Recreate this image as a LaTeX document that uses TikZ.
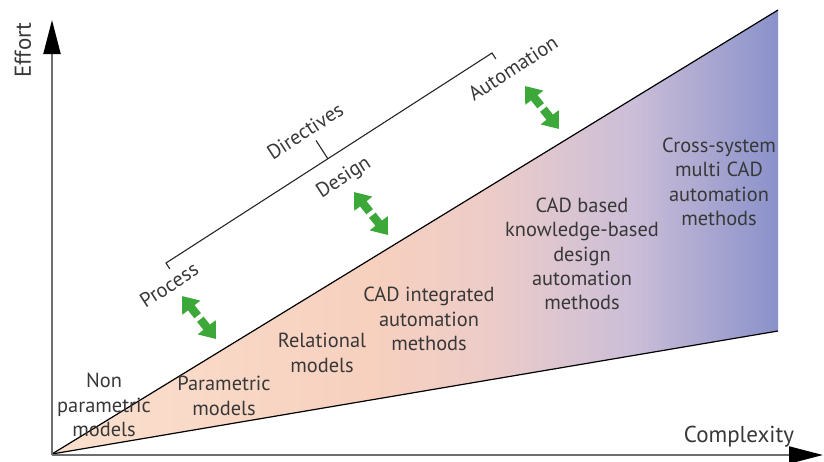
\documentclass[tikz,border=0pt]{standalone}
\usepackage{fontspec}
\setmainfont{PT Sans}
\usetikzlibrary{arrows.meta,calc}
\definecolor{peachA}{HTML}{FBE0CE}
\definecolor{peachB}{HTML}{F7D0BE}
\definecolor{pinkC}{HTML}{EDCCC8}
\definecolor{lilacD}{HTML}{CBBED8}
\definecolor{blueE}{HTML}{8A91CA}
\definecolor{txtgray}{HTML}{383838}
\definecolor{axisgray}{HTML}{6E6E6E}
\definecolor{arrowgreen}{HTML}{3DA83A}
\pgfdeclarehorizontalshading{effortshade}{100bp}{color(0bp)=(peachA); color(25bp)=(peachA);
color(47bp)=(peachB); color(55bp)=(pinkC); color(65bp)=(lilacD); color(75bp)=(blueE); color(100bp)=(blueE)}
\tikzset{txt/.style={align=center, inner sep=0pt, text=txtgray, font=\fontsize{10.2}{12.2}\selectfont},
tilted/.style={txt, rotate=33},
axislbl/.style={inner sep=0pt, text=txtgray, font=\fontsize{11.5}{13}\selectfont},
axisline/.style={draw=axisgray, line width=1pt, -{Triangle[length=17pt,width=8.5pt,black]}},
wedgeline/.style={draw=black, line width=0.6pt},
bracket/.style={draw=black!85, line width=0.55pt},
garrow/.style={draw=arrowgreen, line width=4.2pt, -{Triangle[length=7.5pt,width=11pt]}}}

\begin{document}
\begin{tikzpicture}[x=0.5pt,y=-0.5pt]
    \useasboundingbox (0,0) rectangle (824,461);

    \coordinate (O) at (52,454);
    \coordinate (wtop) at (778,10);
    \coordinate (wbot) at (778,331);

    \shade [shading=effortshade] (O) -- (wtop) -- (wbot) -- cycle;
    \draw [wedgeline] (O) -- (wtop);
    \draw [wedgeline] (O) -- (wbot);

    \coordinate (ax0) at (52,455);
    \coordinate (axy) at (52,20);
    \coordinate (axx) at (823,455);
    \draw [axisline] (ax0) -- (axy);
    \draw [axisline] (ax0) -- (axx);

    \node (effort) [axislbl, rotate=90] at (23,50) {Effort};
    \node (complexity) [axislbl] at (739,437) {Complexity};

    \coordinate (brL) at (166,263);
    \coordinate (brM) at (328,159);
    \coordinate (brR) at (492,53);
    \draw [bracket] ($(brL)!3.5pt!-90:(brR)$) -- (brL) -- (brR) -- ($(brR)!3.5pt!90:(brL)$);
    \draw [bracket] (brM) -- ($(brM)!11pt!90:(brR)$);

    \node (process) [tilted] at (169,285) {Process};
    \node (directives) [tilted] at (305,131) {Directives};
    \node (design) [tilted] at (344,178) {Design};
    \node (automation) [tilted] at (513,68) {Automation};

    \coordinate (g1-s) at (182,296);
    \coordinate (g1-e) at (216,339);
    \coordinate (g2-s) at (354,192);
    \coordinate (g2-e) at (388,235);
    \coordinate (g3-s) at (525,86);
    \coordinate (g3-e) at (559,129);
    \foreach \g in {g1,g2,g3} {
        \draw [garrow] ($(\g-s)!0.46!(\g-e)$) -- (\g-s);
        \draw [garrow] ($(\g-s)!0.54!(\g-e)$) -- (\g-e);
    }

    \node (nonpar) [txt] at (104,405) {Non\\parametric\\models};
    \node (param) [txt] at (224,396) {Parametric\\models};
    \node (relational) [txt] at (322,353) {Relational\\models};
    \node (cadint) [txt] at (429,319) {CAD integrated\\automation\\methods};
    \node (kbe) [txt] at (582,254) {CAD based\\knowledge-based\\design\\automation\\methods};
    \node (crosssys) [txt] at (719,182) {Cross-system\\multi CAD\\automation\\methods};

\end{tikzpicture}
\end{document}
